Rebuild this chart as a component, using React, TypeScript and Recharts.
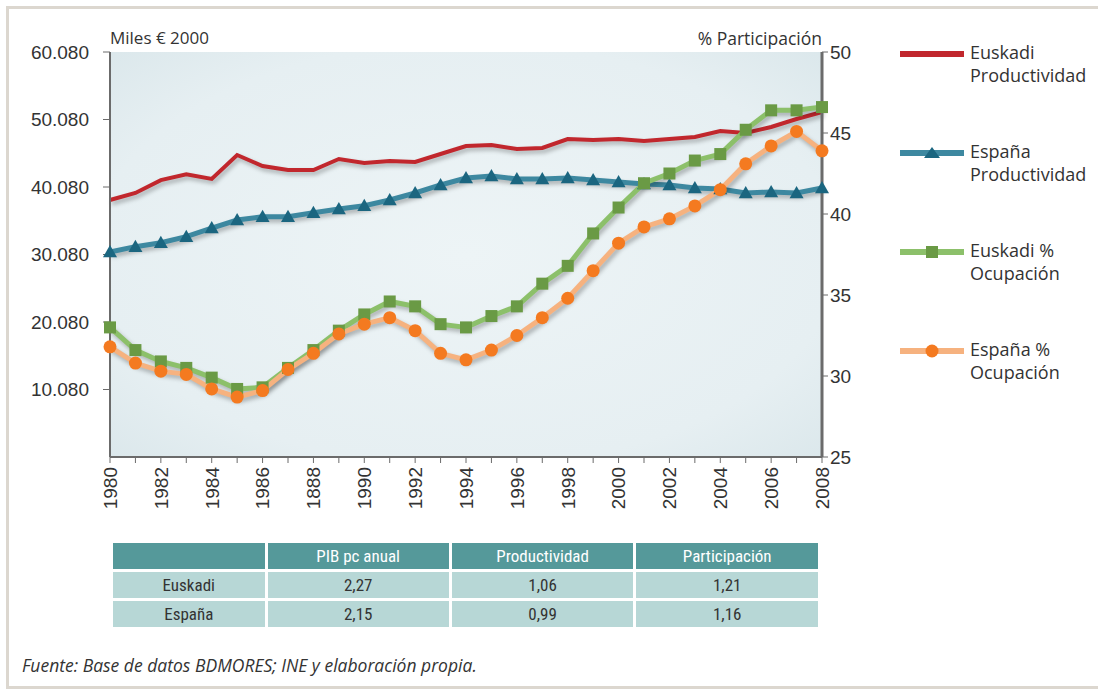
import { LineChart, Line, XAxis, YAxis, CartesianGrid } from 'recharts';

const years = [1980, 1981, 1982, 1983, 1984, 1985, 1986, 1987, 1988, 1989, 1990, 1991, 1992, 1993, 1994, 1995, 1996, 1997, 1998, 1999, 2000, 2001, 2002, 2003, 2004, 2005, 2006, 2007, 2008];
const labeledYears = [1980, 1982, 1984, 1986, 1988, 1990, 1992, 1994, 1996, 1998, 2000, 2002, 2004, 2006, 2008];
const yearTickLabels = ['1980', '1982', '1984', '1986', '1888', '1990', '1992', '1994', '1996', '1998', '2000', '2002', '2004', '2006', '2008'];

const leftTicks = [10080, 20080, 30080, 40080, 50080, 60080];
const rightTicks = [25, 30, 35, 40, 45, 50];

const euskadiProd = [38150, 39200, 41100, 41950, 41270, 44820, 43190, 42600, 42600, 44230, 43640, 43930, 43780, 44970, 46150, 46300, 45710, 45860, 47190, 47040, 47190, 46890, 47190, 47490, 48380, 48080, 48970, 50150, 51190];
const espanaProd = [30450, 31240, 31830, 32720, 34000, 35190, 35680, 35680, 36270, 36820, 37310, 38150, 39190, 40380, 41410, 41710, 41270, 41270, 41410, 41120, 40820, 40530, 40380, 39930, 39780, 39190, 39340, 39190, 39930];
const euskadiOcup = [33.0, 31.6, 30.9, 30.5, 29.9, 29.2, 29.3, 30.5, 31.6, 32.8, 33.8, 34.6, 34.3, 33.2, 33.0, 33.7, 34.3, 35.7, 36.8, 38.8, 40.4, 41.9, 42.5, 43.3, 43.7, 45.2, 46.4, 46.4, 46.6];
const espanaOcup = [31.8, 30.8, 30.3, 30.1, 29.2, 28.7, 29.1, 30.4, 31.4, 32.6, 33.2, 33.6, 32.8, 31.4, 31.0, 31.6, 32.5, 33.6, 34.8, 36.5, 38.2, 39.2, 39.7, 40.5, 41.5, 43.1, 44.2, 45.1, 43.9];

const tableHeaders = ['', 'PIB pc anual', 'Productividad', 'Participación'];
const tableRows = ['Euskadi', 'España'];
const tableValues = [
  ['2,27', '1,06', '1,21'],
  ['2,15', '0,99', '1,16'],
];

const data = years.map((year, i) => ({
  year,
  euskadiProd: euskadiProd[i],
  espanaProd: espanaProd[i],
  euskadiOcup: euskadiOcup[i],
  espanaOcup: espanaOcup[i],
}));

const RED = '#c1272d';
const TEAL_LINE = '#3d88a0';
const TEAL_DOT = '#1b6680';
const GREEN_LINE = '#8cc06a';
const GREEN_DOT = '#6a9a45';
const ORANGE_LINE = '#f6b27f';
const ORANGE_DOT = '#f47a20';
const AXIS = '#6b6b6b';
const TEXT = '#333';
const SANS = "'Open Sans', Lato, sans-serif";

const fmtMiles = (v: number) => `${Math.floor(v / 1000)}.${String(v % 1000).padStart(3, '0')}`;

const YearTick = (props: any) => {
  const { x, y, payload } = props;
  const idx = labeledYears.indexOf(payload.value);
  if (idx < 0) return <g />;
  return (
    <text
      x={x}
      y={y}
      transform={`rotate(-90 ${x} ${y})`}
      textAnchor="end"
      dy="0.36em"
      fontSize={19}
      fill={TEXT}
      fontFamily="'Liberation Sans', Arial, sans-serif"
    >
      {yearTickLabels[idx]}
    </text>
  );
};

const triangleDot = (props: any) => {
  const { cx, cy, index } = props;
  const s = 7;
  return (
    <polygon
      key={`tri-${index}`}
      points={`${cx},${cy - s} ${cx - s},${cy + s * 0.75} ${cx + s},${cy + s * 0.75}`}
      fill={TEAL_DOT}
    />
  );
};

const squareDot = (props: any) => {
  const { cx, cy, index } = props;
  return <rect key={`sq-${index}`} x={cx - 6} y={cy - 6} width={12} height={12} fill={GREEN_DOT} />;
};

const circleDot = (props: any) => {
  const { cx, cy, index } = props;
  return <circle key={`ci-${index}`} cx={cx} cy={cy} r={6.5} fill={ORANGE_DOT} />;
};

const legendItems = [
  { l1: 'Euskadi', l2: 'Productividad', line: RED, marker: 'none' },
  { l1: 'España', l2: 'Productividad', line: TEAL_LINE, marker: 'triangle' },
  { l1: 'Euskadi %', l2: 'Ocupación', line: GREEN_LINE, marker: 'square' },
  { l1: 'España %', l2: 'Ocupación', line: ORANGE_LINE, marker: 'circle' },
];

const ChartLegend = () => (
  <div style={{ position: 'absolute', left: 900, top: 42, fontFamily: SANS, fontSize: 18, color: TEXT }}>
    {legendItems.map((it, i) => (
      <div key={i} style={{ position: 'relative', height: 99 }}>
        <svg width={66} height={14} style={{ position: 'absolute', left: 0, top: 5 }}>
          <line x1={0} y1={7} x2={64} y2={7} stroke={it.line} strokeWidth={6} />
          {it.marker === 'triangle' && <polygon points="32,1 24,12 40,12" fill={TEAL_DOT} />}
          {it.marker === 'square' && <rect x={26} y={1} width={12} height={12} fill={GREEN_DOT} />}
          {it.marker === 'circle' && <circle cx={32} cy={7} r={6.5} fill={ORANGE_DOT} />}
        </svg>
        <div style={{ position: 'absolute', left: 70, top: -1, lineHeight: '23px', whiteSpace: 'nowrap' }}>
          <div>{it.l1}</div>
          <div>{it.l2}</div>
        </div>
      </div>
    ))}
  </div>
);

export default function App() {
  const cellBase: React.CSSProperties = {
    textAlign: 'center',
    padding: 0,
    height: 26,
    fontSize: 17,
  };
  return (
    <div style={{ position: 'absolute', left: 0, top: 0, width: 1098, height: 689, background: '#fff', overflow: 'hidden' }}>
      <style>{`.rc-shadow { filter: drop-shadow(2px 3px 2px rgba(0,0,0,0.28)); }`}</style>
      <div style={{ position: 'absolute', left: 6, top: 6, width: 1120, height: 677, borderLeft: '3px solid #dcd7cf', borderTop: '3px solid #dcd7cf', borderBottom: '3px solid #dcd7cf' }} />
      <div style={{ position: 'absolute', left: 110, top: 26, fontFamily: SANS, fontSize: 17, color: TEXT }}>Miles € 2000</div>
      <div style={{ position: 'absolute', right: 1098 - 822, top: 26, fontFamily: SANS, fontSize: 17.5, color: TEXT }}>% Participación</div>
      <div style={{ position: 'absolute', left: 0, top: 0 }}>
        <LineChart width={1098} height={540} data={data} margin={{ top: 52, right: 0, left: 0, bottom: 0 }}>
          <defs>
            <radialGradient id="plotBg" cx="50%" cy="50%" r="75%">
              <stop offset="0%" stopColor="#edf4f6" />
              <stop offset="70%" stopColor="#e6eff2" />
              <stop offset="100%" stopColor="#d9e6ea" />
            </radialGradient>
          </defs>
          <CartesianGrid horizontal={false} vertical={false} fill="url(#plotBg)" />
          <XAxis
            dataKey="year"
            type="number"
            domain={[1980, 2008]}
            ticks={years}
            interval={0}
            height={83}
            tick={<YearTick />}
            tickSize={6}
            tickMargin={4}
            axisLine={{ stroke: AXIS, strokeWidth: 2 }}
            tickLine={{ stroke: AXIS }}
          />
          <YAxis
            yAxisId="left"
            orientation="left"
            width={110}
            domain={[80, 60080]}
            ticks={leftTicks}
            tickFormatter={fmtMiles}
            tickSize={7}
            tickMargin={14}
            axisLine={{ stroke: AXIS, strokeWidth: 2 }}
            tickLine={{ stroke: AXIS }}
            tick={{ fill: TEXT, fontSize: 19, fontFamily: "'Liberation Sans', Arial, sans-serif" }}
          />
          <YAxis
            yAxisId="right"
            orientation="right"
            width={276}
            domain={[25, 50]}
            ticks={rightTicks}
            tickSize={6}
            tickMargin={2}
            axisLine={{ stroke: AXIS, strokeWidth: 3 }}
            tickLine={{ stroke: AXIS }}
            tick={{ fill: TEXT, fontSize: 19, fontFamily: "'Liberation Sans', Arial, sans-serif", textAnchor: 'start' }}
          />
          <Line
            className="rc-shadow"
            yAxisId="left"
            type="linear"
            dataKey="euskadiProd"
            stroke={RED}
            strokeWidth={4}
            dot={false}
            isAnimationActive={false}
          />
          <Line
            className="rc-shadow"
            yAxisId="left"
            type="linear"
            dataKey="espanaProd"
            stroke={TEAL_LINE}
            strokeWidth={5}
            dot={triangleDot}
            isAnimationActive={false}
          />
          <Line
            className="rc-shadow"
            yAxisId="right"
            type="linear"
            dataKey="euskadiOcup"
            stroke={GREEN_LINE}
            strokeWidth={5}
            dot={squareDot}
            isAnimationActive={false}
          />
          <Line
            className="rc-shadow"
            yAxisId="right"
            type="linear"
            dataKey="espanaOcup"
            stroke={ORANGE_LINE}
            strokeWidth={5}
            dot={circleDot}
            isAnimationActive={false}
          />
        </LineChart>
      </div>
      <ChartLegend />
      <table
        style={{
          position: 'absolute',
          left: 110,
          top: 540,
          width: 711,
          borderCollapse: 'separate',
          borderSpacing: '3px 3px',
          fontFamily: "'Liberation Sans Narrow', 'Roboto Condensed', Lato, sans-serif",
          color: TEXT,
        }}
      >
        <tbody>
          <tr>
            {tableHeaders.map((h, i) => (
              <td key={i} style={{ ...cellBase, background: '#55999a', color: '#fff', width: i === 0 ? 152 : 182 }}>
                {h}
              </td>
            ))}
          </tr>
          {tableRows.map((r, ri) => (
            <tr key={r}>
              <td style={{ ...cellBase, background: '#b7d7d6' }}>{r}</td>
              {tableValues[ri].map((v, ci) => (
                <td key={ci} style={{ ...cellBase, background: '#b7d7d6' }}>
                  {v}
                </td>
              ))}
            </tr>
          ))}
        </tbody>
      </table>
      <div style={{ position: 'absolute', left: 22, top: 653, fontFamily: SANS, fontStyle: 'italic', fontSize: 17.5, color: TEXT }}>
        Fuente: Base de datos BDMORES; INE y elaboración propia.
      </div>
    </div>
  );
}
